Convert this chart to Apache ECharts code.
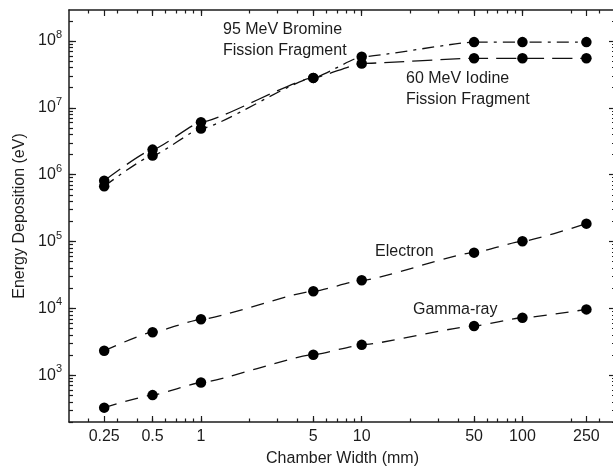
<!DOCTYPE html>
<html>
<head>
<meta charset="utf-8">
<script src="https://cdn.jsdelivr.net/npm/echarts@6/dist/echarts.min.js"></script>
<style>
  html, body { margin: 0; padding: 0; background: #fff; }
  #chart { width: 613px; height: 470px; }
</style>
</head>
<body>
<div id="chart"></div>
<script>
// chamber widths (mm)
var widths = [0.25, 0.5, 1, 5, 10, 50, 100, 250];
// energy deposition (eV)
var iodine   = [8.1e5, 2.37e6, 6.1e6, 2.8e7, 4.6e7, 5.5e7, 5.5e7, 5.5e7];
var bromine  = [6.7e5, 1.93e6, 4.9e6, 2.8e7, 5.8e7, 9.6e7, 9.6e7, 9.6e7];
var electron = [2330, 4410, 6870, 18000, 26300, 68200, 101000, 185000];
var gamma    = [328, 505, 780, 2030, 2850, 5460, 7250, 9660];

var xTickLabels = [0.25, 0.5, 1, 5, 10, 50, 100, 250];
var yTickExps = [3, 4, 5, 6, 7, 8];

var xRange = [0.151, 382];
var yRange = [200, 2.9e8];

var log = Math.log10;
var FONT = 'Liberation Sans';
var INK = '#1c1c1c';

// minor tick positions 2..9 x 10^k inside a range (log space)
function minorTicks(r) {
    var out = [];
    for (var k = Math.floor(log(r[0])); k <= Math.ceil(log(r[1])); k++) {
        for (var m = 1; m <= 9; m++) {
            var v = m * Math.pow(10, k);
            if (v >= r[0] && v <= r[1]) out.push(log(v));
        }
    }
    return out;
}

function axis(pos, r, ticks, len, showLine, label) {
    return {
        type: 'value',
        position: pos,
        min: log(r[0]),
        max: log(r[1]),
        gridIndex: 0,
        axisLine: { show: showLine, onZero: false, lineStyle: { color: INK, width: 1.5 } },
        axisTick: { show: true, inside: true, length: len, customValues: ticks,
                    lineStyle: { color: INK, width: 1.2 } },
        axisLabel: label || { show: false },
        splitLine: { show: false }
    };
}

var xMajor = xTickLabels.map(log);
var yMajor = yTickExps.slice();
var xMinor = minorTicks(xRange);
var yMinor = minorTicks(yRange);

var xLabel = {
    show: true, customValues: xMajor, margin: 7,
    fontFamily: FONT, fontSize: 16, color: INK,
    formatter: function (v) { return String(+Math.pow(10, v).toPrecision(3)); }
};
var yLabel = {
    show: true, customValues: yMajor, margin: 7,
    fontFamily: FONT, color: INK,
    formatter: function (v) { return '{b|10}{s|' + Math.round(v) + '}'; },
    rich: {
        b: { fontFamily: FONT, fontSize: 16, color: INK },
        s: { fontFamily: FONT, fontSize: 11, color: INK, padding: [0, 0, 12, 0] }
    }
};

var xAxes = [
    axis('bottom', xRange, xMajor, 6, true, xLabel),
    axis('bottom', xRange, xMinor, 3.5, false),
    axis('top', xRange, xMajor, 6, true),
    axis('top', xRange, xMinor, 3.5, false)
];
xAxes[0].name = 'Chamber Width (mm)';
xAxes[0].nameLocation = 'middle';
xAxes[0].nameGap = 29;
xAxes[0].nameTextStyle = { fontFamily: FONT, fontSize: 16, color: INK };

var yAxes = [
    axis('left', yRange, yMajor, 7, true, yLabel),
    axis('left', yRange, yMinor, 4, false),
    axis('right', yRange, yMajor, 7, true),
    axis('right', yRange, yMinor, 4, false)
];
yAxes[0].name = 'Energy Deposition (eV)';
yAxes[0].nameLocation = 'middle';
yAxes[0].nameGap = 40;
yAxes[0].nameTextStyle = { fontFamily: FONT, fontSize: 16, color: INK };

function series(name, vals, dash, smooth) {
    return {
        name: name,
        type: 'line',
        xAxisIndex: 0,
        yAxisIndex: 0,
        data: widths.map(function (w, i) { return [log(w), log(vals[i])]; }),
        smooth: smooth,
        smoothMonotone: 'x',
        symbol: 'circle',
        symbolSize: 10.5,
        itemStyle: { color: '#000' },
        lineStyle: { color: '#111', width: 1.3, type: dash },
        animation: false
    };
}

function note(text, left, top) {
    return {
        type: 'text', left: left, top: top,
        style: { text: text, font: '16px "' + FONT + '"', fill: INK, lineHeight: 21 }
    };
}

var chart = echarts.init(document.getElementById('chart'));
chart.setOption({
    animation: false,
    grid: { left: 69, top: 10, width: 547, height: 412, containLabel: false,
            outerBoundsMode: 'none' },
    xAxis: xAxes,
    yAxis: yAxes,
    series: [
        series('60 MeV Iodine', iodine, [20, 8], 0.15),
        series('95 MeV Bromine', bromine, [12, 6, 3, 6], 0.15),
        series('Electron', electron, [13, 9], 0.15),
        series('Gamma-ray', gamma, [13, 9], 0.15)
    ],
    graphic: [
        note('95 MeV Bromine\nFission Fragment', 223, 19),
        note('60 MeV Iodine\nFission Fragment', 406, 68),
        note('Electron', 375, 241),
        note('Gamma-ray', 413, 299)
    ]
});
</script>
</body>
</html>
